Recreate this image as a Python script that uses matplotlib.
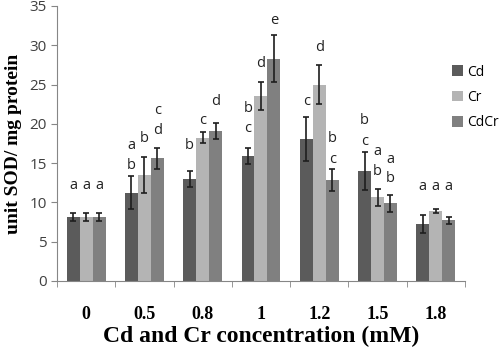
import numpy as np
import matplotlib.pyplot as plt

# concentrations (mM) and SOD activity per treatment
conc = ['0', '0.5', '0.8', '1', '1.2', '1.5', '1.8']
series = ['Cd', 'Cr', 'CdCr']
cd = [8.1, 11.2, 13.0, 15.9, 18.1, 14.0, 7.25]
cr = [8.1, 13.45, 18.2, 23.5, 25.0, 10.65, 8.9]
cdcr = [8.1, 15.6, 19.05, 28.3, 12.85, 9.9, 7.7]
cd_err = [0.5, 2.1, 1.0, 1.0, 2.8, 2.4, 1.15]
cr_err = [0.5, 2.3, 0.7, 1.8, 2.5, 1.05, 0.3]
cdcr_err = [0.5, 1.3, 1.0, 3.0, 1.4, 1.1, 0.4]

# significance letters (stacked, top to bottom) and their heights in data units
cd_letters = [['a'], ['a', 'b'], ['b'], ['b', 'c'], ['c'], ['b', 'c'], ['a']]
cr_letters = [['a'], ['b'], ['c'], ['d'], ['d'], ['a', 'b'], ['a']]
cdcr_letters = [['a'], ['c', 'd'], ['d'], ['e'], ['b', 'c'], ['a', 'b'], ['a']]
cd_letter_y = [[12.2], [17.2, 14.7], [17.2], [22.0, 19.35], [22.8], [20.4, 17.7], [12.0]]
cr_letter_y = [[12.2], [18.1], [20.4], [27.7], [29.65], [16.45, 13.9], [12.0]]
cdcr_letter_y = [[12.2], [21.7, 19.2], [22.8], [33.1], [18.1, 15.4], [15.5, 13.0], [12.0]]

colors = ['#5b5b5b', '#b4b4b4', '#808080']

fig = plt.figure(figsize=(5.02, 3.49), dpi=100)
ax = fig.add_axes([0.1135, 0.195, 0.8127, 0.788])

x = np.arange(len(conc))
w = 0.222
vals = [cd, cr, cdcr]
errs = [cd_err, cr_err, cdcr_err]
letters = [cd_letters, cr_letters, cdcr_letters]
letter_y = [cd_letter_y, cr_letter_y, cdcr_letter_y]

for i, name in enumerate(series):
    pos = x + (i - 1) * w
    ax.bar(pos, vals[i], w, color=colors[i], label=name,
           yerr=errs[i], capsize=2.5,
           error_kw=dict(ecolor='#1e1e1e', elinewidth=1.2, capthick=1.2))
    for j in range(len(conc)):
        for txt, ty in zip(letters[i][j], letter_y[i][j]):
            ax.text(pos[j], ty, txt, ha='center', va='center',
                    fontsize=10.5, color='#222222', family='Open Sans')

ax.set_xlim(-0.5, len(conc) - 0.5)
ax.set_ylim(0, 35)
ax.set_yticks(range(0, 36, 5))
ax.set_xticks(x)
ax.set_xticklabels(conc, family='Liberation Serif', fontweight='bold', fontsize=13)
ax.set_xticks(np.arange(-0.5, len(conc), 1), minor=True)
ax.tick_params(axis='x', which='major', length=0, pad=18)
ax.tick_params(axis='x', which='minor', length=4, color='#868686')
ax.tick_params(axis='y', length=4, color='#868686', labelsize=11, labelcolor='#404040')
for lab in ax.get_yticklabels():
    lab.set_family('Open Sans')

for s in ['top', 'right']:
    ax.spines[s].set_visible(False)
for s in ['left', 'bottom']:
    ax.spines[s].set_color('#868686')

ax.set_ylabel('unit SOD/ mg protein', family='Liberation Serif', fontweight='bold',
              fontsize=14, labelpad=5)
ax.set_xlabel('Cd and Cr concentration (mM)', family='Liberation Serif',
              fontweight='bold', fontsize=17, labelpad=2)

fig.legend(loc='upper left', bbox_to_anchor=(0.90, 0.815), frameon=False,
           prop={'family': 'Open Sans', 'size': 10}, handlelength=0.8,
           handleheight=0.8, handletextpad=0.3, labelspacing=0.75,
           borderaxespad=0, borderpad=0)

fig.savefig('out.png', dpi=100)
